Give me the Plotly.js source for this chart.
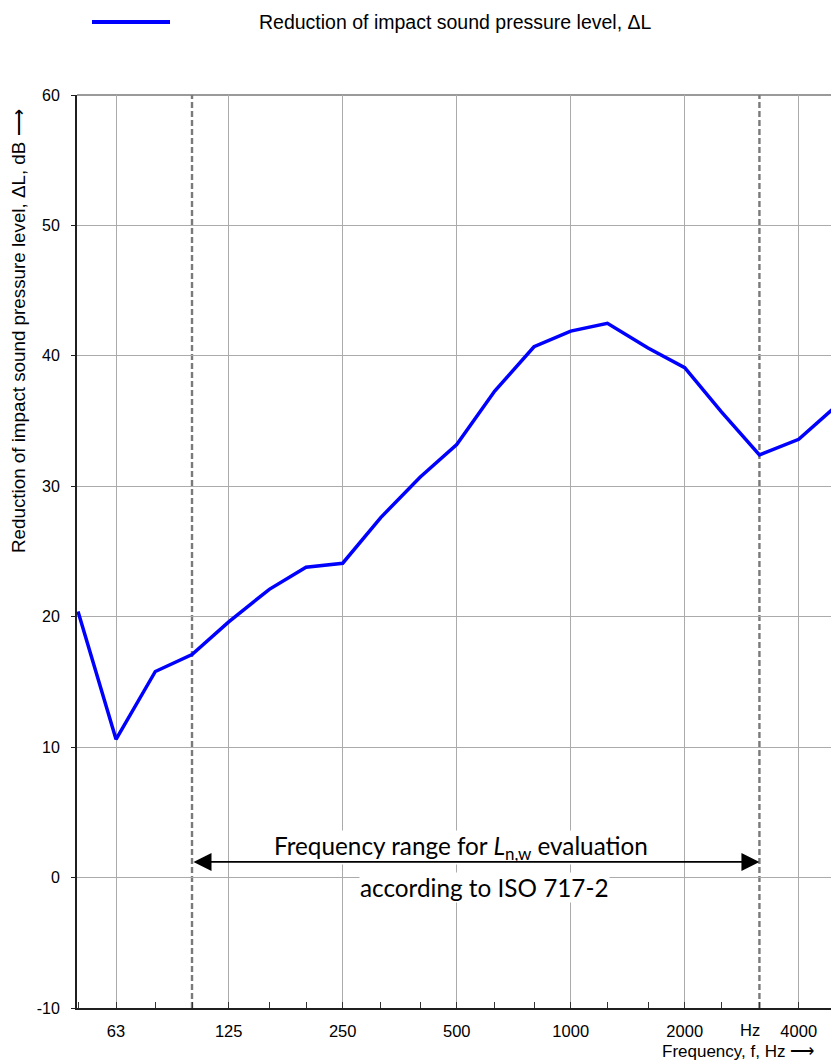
<!DOCTYPE html>
<html><head><meta charset="utf-8">
<script src="https://cdn.plot.ly/plotly-3.0.1.min.js"></script>
<style>html,body{margin:0;padding:0;background:#fff}#chart{width:831px;height:1062px}</style>
</head><body><div id="chart"></div>
<script>
// One-third octave band centre frequencies (Hz)
const bands = [50, 63, 80, 100, 125, 160, 200, 250, 315, 400, 500, 630, 800, 1000, 1250, 1600, 2000, 2500, 3150, 4000, 5000];
// Reduction of impact sound pressure level ΔL (dB)
const deltaL = [20.4, 10.6, 15.8, 17.1, 19.6, 22.1, 23.8, 24.1, 27.6, 30.7, 33.2, 37.3, 40.7, 41.9, 42.5, 40.6, 39.1, 35.7, 32.4, 33.6, 36.1];
// Labelled frequencies with solid grid lines
const gridFreqs = [63, 125, 250, 500, 1000, 2000, 4000];
const gridLabels = ['63', '125', '250', '500', '1000', '2000', '4000'];
// y ticks
const yTicks = [-10, 0, 10, 20, 30, 40, 50, 60];
const yTickLabels = ['-10', '0', '10', '20', '30', '40', '50', '60'];
// Evaluation range for Ln,w (ISO 717-2)
const evalRange = [100, 3150];
const unitTickFreq = 3150;
const unitTickLabel = 'Hz';
const seriesName = 'Reduction of impact sound pressure level, \u0394L';
const yTitle = 'Reduction of impact sound pressure level, \u0394L, dB \u27F6';
const xTitle = 'Frequency, f, Hz \u27F6';
const rangeLabel1 = 'Frequency range for <i>L</i><sub>n,w</sub> evaluation';
const rangeLabel2 = 'according to ISO 717-2';
const arrowLevel = 1.2;

const FONT = 'Liberation Sans, Arial, sans-serif';
const GRID = '#ababab';
const AXIS = '#1f1f1f';
const lg = Math.log10;

const trace = {
  x: bands, y: deltaL, type: 'scatter', mode: 'lines',
  line: {color: '#0000ff', width: 3.5}, name: seriesName, showlegend: false,
  hoverinfo: 'x+y'
};

const layout = {
  width: 831, height: 1062,
  margin: {l: 77, r: 0, t: 95, b: 54},
  paper_bgcolor: '#ffffff', plot_bgcolor: '#ffffff',
  showlegend: false,
  xaxis: {
    type: 'log', range: [1.6963, 3.6873],
    tickmode: 'array', tickvals: gridFreqs, ticktext: gridLabels,
    showgrid: true, gridcolor: GRID, gridwidth: 1,
    showline: true, linecolor: AXIS, linewidth: 2,
    ticks: '', zeroline: false,
    tickfont: {family: FONT, size: 16.5, color: '#000'},
    ticklabelstandoff: 7,
    minor: {tickmode: 'array', tickvals: bands, ticks: 'inside', ticklen: 6, tickcolor: '#333', tickwidth: 1, showgrid: false}
  },
  yaxis: {
    range: [-10, 60], tickmode: 'array', tickvals: yTicks, ticktext: yTickLabels,
    showgrid: true, gridcolor: GRID, gridwidth: 1,
    showline: true, linecolor: AXIS, linewidth: 2,
    ticks: 'outside', ticklen: 4, tickcolor: AXIS, tickwidth: 1,
    zeroline: false,
    tickfont: {family: FONT, size: 16, color: '#000'},
    ticklabelstandoff: 8
  },
  shapes: [
    // top frame
    {type: 'line', xref: 'paper', yref: 'paper', x0: 0, x1: 1, y0: 1, y1: 1, line: {color: '#9a9a9a', width: 2}, layer: 'below'},
    // evaluation range boundaries
    ...evalRange.map(f => ({type: 'line', xref: 'x', yref: 'paper', x0: f, x1: f, y0: 0, y1: 1,
      line: {color: '#7a7a7a', width: 2.4, dash: '6px,3px'}, layer: 'below'})),
    // legend sample line
    {type: 'line', xref: 'paper', yref: 'paper', x0: (92 - 77) / 754, x1: (170 - 77) / 754, y0: (1008 - 22) / 913, y1: (1008 - 22) / 913,
      line: {color: '#0000ff', width: 4}}
  ],
  annotations: [
    {xref: 'paper', yref: 'paper', x: (257 - 77) / 754, y: (1008 - 22) / 913, xanchor: 'left', yanchor: 'middle',
      text: seriesName, showarrow: false, font: {family: FONT, size: 19.5, color: '#000'}},
    {xref: 'paper', yref: 'paper', x: (18 - 77) / 754, y: (1008 - 331) / 913, xanchor: 'center', yanchor: 'middle',
      text: yTitle, textangle: -90, showarrow: false, font: {family: FONT, size: 18.8, color: '#000'}},
    {xref: 'paper', yref: 'paper', x: (816 - 77) / 754, y: (1008 - 1051) / 913, xanchor: 'right', yanchor: 'middle',
      text: xTitle, showarrow: false, font: {family: FONT, size: 17, color: '#000'}},
    {xref: 'x', yref: 'paper', x: lg(unitTickFreq), y: (1008 - 1030) / 913, xanchor: 'center', yanchor: 'middle', xshift: -9,
      text: unitTickLabel, showarrow: false, font: {family: FONT, size: 16.5, color: '#000'}},
    {xref: 'paper', yref: 'y', x: (461 - 77) / 754, y: 2.3, xanchor: 'center', yanchor: 'middle',
      text: rangeLabel1, showarrow: false, bgcolor: '#ffffff', borderpad: 0,
      font: {family: 'Lato, Carlito, sans-serif', size: 24.3, color: '#000'}},
    {xref: 'paper', yref: 'y', x: (484 - 77) / 754, y: -0.75, xanchor: 'center', yanchor: 'middle',
      text: rangeLabel2, showarrow: false, bgcolor: '#ffffff', borderpad: 0,
      font: {family: 'Lato, Carlito, sans-serif', size: 24.3, color: '#000'}},
    // double arrow (drawn on top)
    {xref: 'x', yref: 'y', x: lg(evalRange[1]), y: arrowLevel, axref: 'x', ayref: 'y', ax: lg(evalRange[0]), ay: arrowLevel,
      text: '', showarrow: true, arrowhead: 2, arrowside: 'end+start', arrowsize: 2, arrowwidth: 1.8, arrowcolor: '#000', standoff: 0, startstandoff: 0}
  ]
};

Plotly.newPlot('chart', [trace], layout, {displayModeBar: false, staticPlot: true});
</script>
</body></html>
